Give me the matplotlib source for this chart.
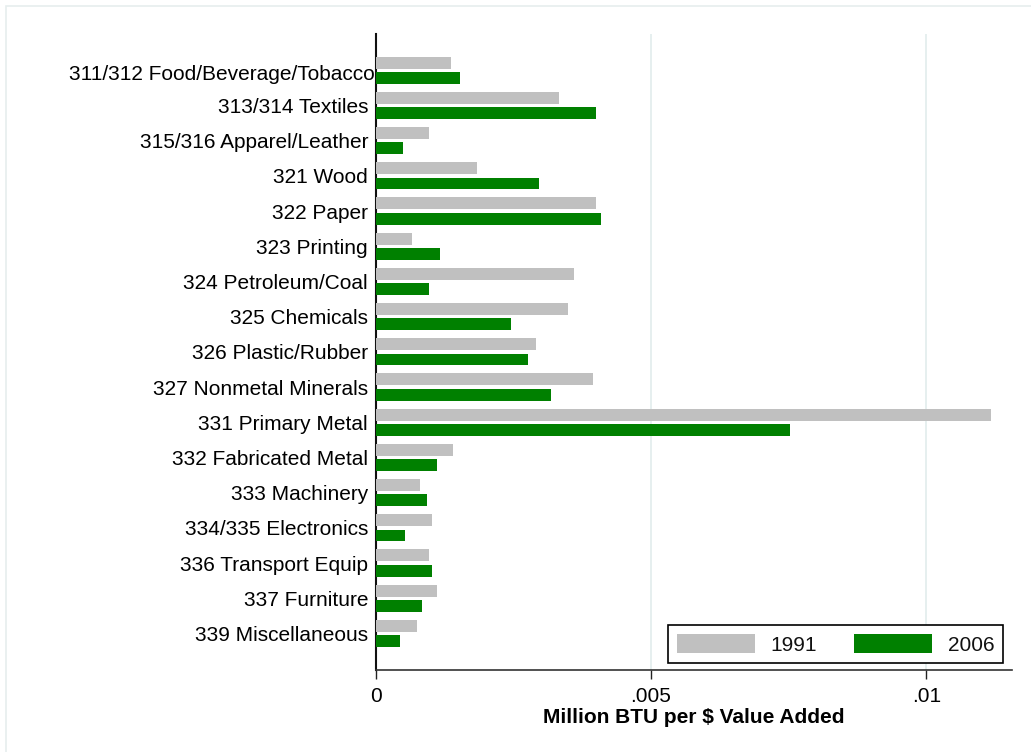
import matplotlib
matplotlib.use('Agg')
import matplotlib.pyplot as plt
from matplotlib.patches import Rectangle
from matplotlib.transforms import ScaledTranslation
import numpy as np

industries = [
    "311/312 Food/Beverage/Tobacco", "313/314 Textiles", "315/316 Apparel/Leather",
    "321 Wood", "322 Paper", "323 Printing", "324 Petroleum/Coal", "325 Chemicals",
    "326 Plastic/Rubber", "327 Nonmetal Minerals", "331 Primary Metal",
    "332 Fabricated Metal", "333 Machinery", "334/335 Electronics",
    "336 Transport Equip", "337 Furniture", "339 Miscellaneous",
]
# Million BTU per $ value added
btu_1991 = [0.00136, 0.00333, 0.00097, 0.00184, 0.00400, 0.00066, 0.00361, 0.00350,
            0.00291, 0.00394, 0.01117, 0.00140, 0.00081, 0.00102, 0.00097, 0.00111, 0.00075]
btu_2006 = [0.00153, 0.00400, 0.00050, 0.00297, 0.00409, 0.00116, 0.00096, 0.00245,
            0.00276, 0.00318, 0.00753, 0.00111, 0.00094, 0.00054, 0.00102, 0.00085, 0.00044]
years = ["1991", "2006"]
xticks = [0, 0.005, 0.01]
xtick_labels = ["0", ".005", ".01"]

plt.rcParams.update({
    'font.family': ['Liberation Sans', 'DejaVu Sans'],
    'font.size': 15,
    'text.color': '#111111',
})

color_91 = '#c0c0c0'
color_06 = '#008000'

fig = plt.figure(figsize=(10.31, 7.52), dpi=100)
fig.patch.set_facecolor('white')
# faint outer frame like the Stata graph region
fig.patches.append(Rectangle((6 / 1031, -0.1), 1.2, 1.1 - 6 / 752, transform=fig.transFigure,
                             fill=False, edgecolor='#e6eeee', linewidth=1.2))

ax = fig.add_axes([0.3644, 0.1090, 0.6167, 0.8457])

y = np.arange(len(industries))
h = 0.34
off = 0.2175
ax.barh(y - off, btu_1991, height=h, color=color_91, label=years[0], zorder=3)
ax.barh(y + off, btu_2006, height=h, color=color_06, label=years[1], zorder=3)

ax.set_ylim(17.04, -1.028)
ax.set_xlim(0, 0.01155)

ax.set_yticks(y)
ax.set_yticklabels(industries)
ax.tick_params(axis='y', length=0, pad=5.5)
# the long first label runs into the axis line in the original
first = ax.get_yticklabels()[0]
first.set_transform(first.get_transform() + ScaledTranslation(0.07, -0.02, fig.dpi_scale_trans))

ax.set_xticks(xticks)
ax.set_xticklabels(xtick_labels)
ax.tick_params(axis='x', length=6.5, width=1.0, pad=6, color='#222222')

ax.xaxis.grid(True, color='#e4eeee', linewidth=1.3, zorder=0)
ax.set_axisbelow(True)

for side in ['top', 'right']:
    ax.spines[side].set_visible(False)
ax.spines['left'].set_linewidth(1.5)
ax.spines['bottom'].set_linewidth(1.2)
ax.spines['left'].set_color('#111111')
ax.spines['bottom'].set_color('#333333')

ax.set_xlabel('Million BTU per $ Value Added', fontweight='bold', labelpad=1)

leg = ax.legend(ncol=2, loc='lower right', bbox_to_anchor=(0.9866, 0.011), borderaxespad=0,
                frameon=True, fancybox=False, edgecolor='black', framealpha=1,
                handlelength=3.75, handleheight=1.07, handletextpad=0.75,
                columnspacing=1.8, borderpad=0.4)
leg.get_frame().set_linewidth(1.2)

fig.savefig('out.png', dpi=100)
